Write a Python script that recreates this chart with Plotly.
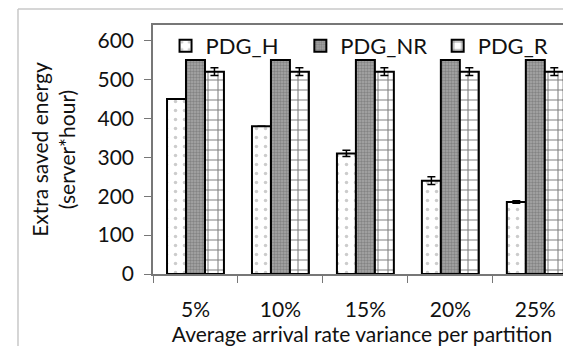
import plotly.graph_objects as go

categories = ["5%", "10%", "15%", "20%", "25%"]
pdg_h = [450, 380, 310, 240, 185]
pdg_h_err = [0, 0, 8, 10, 3]
pdg_nr = [550, 550, 550, 550, 550]
pdg_r = [520, 520, 520, 520, 520]
pdg_r_err = [10, 10, 10, 10, 10]
y_ticks = [0, 100, 200, 300, 400, 500, 600]
series_names = ["PDG_H", "PDG_NR", "PDG_R"]

FONT = "Lato, Carlito, Calibri, sans-serif"
TXT = "#111111"
NB = "\u00a0"

fig = go.Figure()
fig.add_trace(go.Bar(
    name=series_names[0] + NB * 3, x=categories, y=pdg_h,
    error_y=dict(type="data", array=pdg_h_err, color="black", thickness=1.5, width=4),
    marker=dict(color="white", line=dict(color="black", width=2),
                pattern=dict(shape=".", fgcolor="#9a9a9a", bgcolor="white", size=9, solidity=0.12)),
))
fig.add_trace(go.Bar(
    name=series_names[1] + NB * 1, x=categories, y=pdg_nr,
    marker=dict(color="#8f8f8f", line=dict(color="black", width=2),
                pattern=dict(shape=".", fgcolor="#5e5e5e", bgcolor="#a8a8a8", size=3, solidity=0.5)),
))
fig.add_trace(go.Bar(
    name=series_names[2], x=categories, y=pdg_r,
    error_y=dict(type="data", array=pdg_r_err, color="black", thickness=1.5, width=4),
    marker=dict(color="white", line=dict(color="black", width=2),
                pattern=dict(shape="+", fgcolor="#000000", bgcolor="white", size=10, solidity=0.2)),
))

fig.update_layout(
    width=563, height=338,
    margin=dict(l=145, r=0, t=17, b=72),
    paper_bgcolor="white", plot_bgcolor="white",
    barmode="group", bargap=0.33, bargroupgap=0,
    font=dict(family=FONT, size=21, color=TXT),
    showlegend=True,
    legend=dict(orientation="h", x=0.03, y=1.0, xanchor="left", yanchor="top",
                bgcolor="rgba(0,0,0,0)", font=dict(size=22, family=FONT, color=TXT),
                itemwidth=30, tracegroupgap=0),
    xaxis=dict(range=[-0.5, 4.42], tickson="boundaries", ticks="outside", ticklen=7,
               tickcolor="#777", showline=True, linecolor="#777", linewidth=1.5, mirror=True,
               showgrid=False, ticklabelstandoff=16,
               title=dict(text="Average arrival rate variance per partition", standoff=0,
                          font=dict(size=21, family=FONT, color=TXT))),
    yaxis=dict(range=[0, 640], tickvals=y_ticks, ticks="outside", ticklen=7, tickcolor="#777",
               showline=True, linecolor="#777", linewidth=1.5, showgrid=False, zeroline=False,
               ticklabelstandoff=6,
               title=dict(text="Extra saved energy<br>(server*hour)", standoff=16,
                          font=dict(size=21, family=FONT, color=TXT))),
    shapes=[
        dict(type="line", xref="paper", yref="paper", x0=-0.323, x1=1.05, y0=1.064, y1=1.064,
             line=dict(color="#c8c8c8", width=1.5)),
        dict(type="line", xref="paper", yref="paper", x0=-0.323, x1=-0.323, y0=1.064, y1=-0.5,
             line=dict(color="#c8c8c8", width=1.5)),
    ],
)

fig.write_html("out.html")
